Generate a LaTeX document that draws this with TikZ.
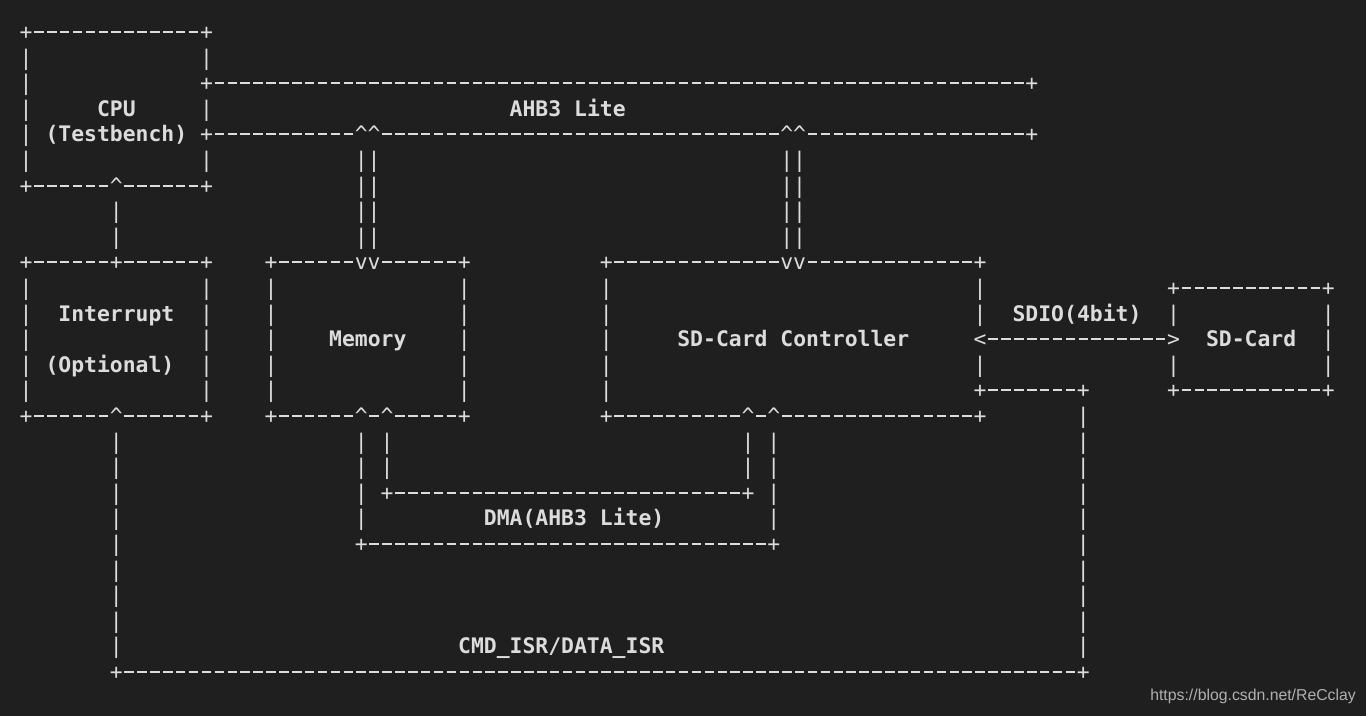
\documentclass[tikz,border=0pt]{standalone}
\usepackage{fontspec}
\newfontfamily\asciifont{DejaVu Sans Mono}
\setsansfont{Liberation Sans}
\definecolor{termbg}{HTML}{1F1F1F}
\definecolor{termfg}{HTML}{DCDCDC}
\definecolor{markgray}{HTML}{B0B0B0}

\tikzset{
  ch/.style={anchor=base, yshift=-7.5pt, inner sep=0pt, text=termfg,
    font=\asciifont\fontsize{21.4pt}{25.6pt}\selectfont},
  lbl/.style={ch, anchor=base west, xshift=-6.447pt,
    font=\asciifont\bfseries\fontsize{21.4pt}{25.6pt}\selectfont},
  dashseg/.style={draw=termfg, line width=2pt},
}
% one ASCII cell = one grid unit
\newcommand{\asciiH}[3]{\foreach \c in {#2,...,#3} \draw[dashseg] (\c-0.37,#1) -- (\c+0.37,#1);}
\newcommand{\asciiV}[3]{\foreach \r in {#2,...,#3} \node[ch] at (#1,\r) {|};}
\newcommand{\asciiC}[3]{\node[ch] at (#1,#2) {#3};}
\newcommand{\up}{\textasciicircum}

\begin{document}
\begin{tikzpicture}[x=12.894pt, y=-25.6pt]
\fill[termbg] (-2.0164,-1.25) rectangle (103.925,26.719);

% CPU
\asciiC{0}{0}{+} \asciiH{0}{1}{13} \asciiC{14}{0}{+}
\asciiV{0}{1}{5} \asciiV{14}{1}{1} \asciiV{14}{3}{3} \asciiV{14}{5}{5}
\asciiC{0}{6}{+} \asciiH{6}{1}{6} \asciiC{7}{6}{\up} \asciiH{6}{8}{13} \asciiC{14}{6}{+}
\node[lbl] (cpu) at (6,3) {CPU};
\node[lbl] (testbench) at (2,4) {(Testbench)};

% AHB3 Lite bus
\asciiC{14}{2}{+} \asciiH{2}{15}{77} \asciiC{78}{2}{+}
\asciiC{14}{4}{+} \asciiH{4}{15}{25} \asciiC{26}{4}{\up} \asciiC{27}{4}{\up}
\asciiH{4}{28}{58} \asciiC{59}{4}{\up} \asciiC{60}{4}{\up} \asciiH{4}{61}{77} \asciiC{78}{4}{+}
\node[lbl] (ahb) at (38,3) {AHB3 Lite};
\asciiV{26}{5}{8} \asciiV{27}{5}{8}
\asciiV{59}{5}{8} \asciiV{60}{5}{8}
\asciiV{7}{7}{8}

% Interrupt
\asciiC{0}{9}{+} \asciiH{9}{1}{6} \asciiC{7}{9}{+} \asciiH{9}{8}{13} \asciiC{14}{9}{+}
\asciiV{0}{10}{14} \asciiV{14}{10}{14}
\asciiC{0}{15}{+} \asciiH{15}{1}{6} \asciiC{7}{15}{\up} \asciiH{15}{8}{13} \asciiC{14}{15}{+}
\node[lbl] (intr) at (3,11) {Interrupt};
\node[lbl] (optional) at (2,13) {(Optional)};

% Memory
\asciiC{19}{9}{+} \asciiH{9}{20}{25} \asciiC{26}{9}{v} \asciiC{27}{9}{v} \asciiH{9}{28}{33} \asciiC{34}{9}{+}
\asciiV{19}{10}{14} \asciiV{34}{10}{14}
\asciiC{19}{15}{+} \asciiH{15}{20}{25} \asciiC{26}{15}{\up} \asciiH{15}{27}{27}
\asciiC{28}{15}{\up} \asciiH{15}{29}{33} \asciiC{34}{15}{+}
\node[lbl] (mem) at (24,12) {Memory};

% SD-Card Controller
\asciiC{45}{9}{+} \asciiH{9}{46}{58} \asciiC{59}{9}{v} \asciiC{60}{9}{v} \asciiH{9}{61}{73} \asciiC{74}{9}{+}
\asciiV{45}{10}{14} \asciiV{74}{10}{11} \asciiV{74}{13}{13}
\asciiC{45}{15}{+} \asciiH{15}{46}{55} \asciiC{56}{15}{\up} \asciiH{15}{57}{57}
\asciiC{58}{15}{\up} \asciiH{15}{59}{73} \asciiC{74}{15}{+}
\node[lbl] (sdctrl) at (51,12) {SD-Card Controller};

% SDIO link and SD-Card
\asciiC{74}{12}{<} \asciiH{12}{75}{88} \asciiC{89}{12}{>}
\node[lbl] (sdio) at (77,11) {SDIO(4bit)};
\asciiC{89}{10}{+} \asciiH{10}{90}{100} \asciiC{101}{10}{+}
\asciiV{89}{11}{11} \asciiV{89}{13}{13} \asciiV{101}{11}{13}
\asciiC{89}{14}{+} \asciiH{14}{90}{100} \asciiC{101}{14}{+}
\node[lbl] (sdcard) at (92,12) {SD-Card};

% DMA (AHB3 Lite)
\asciiV{26}{16}{19} \asciiV{28}{16}{17}
\asciiV{56}{16}{17} \asciiV{58}{16}{19}
\asciiC{28}{18}{+} \asciiH{18}{29}{55} \asciiC{56}{18}{+}
\asciiC{26}{20}{+} \asciiH{20}{27}{57} \asciiC{58}{20}{+}
\node[lbl] (dma) at (36,19) {DMA(AHB3 Lite)};

% interrupt lines
\asciiC{74}{14}{+} \asciiH{14}{75}{81} \asciiC{82}{14}{+}
\asciiV{82}{15}{24} \asciiV{7}{16}{24}
\asciiC{7}{25}{+} \asciiH{25}{8}{81} \asciiC{82}{25}{+}
\node[lbl] (isr) at (34,24) {CMD\_ISR/DATA\_ISR};

\node[anchor=base east, inner sep=0pt, text=markgray,
  font=\sffamily\fontsize{15.8pt}{18pt}\selectfont] (mark) at (103.15,26.13) {https://blog.csdn.net/ReCclay};
\end{tikzpicture}
\end{document}
